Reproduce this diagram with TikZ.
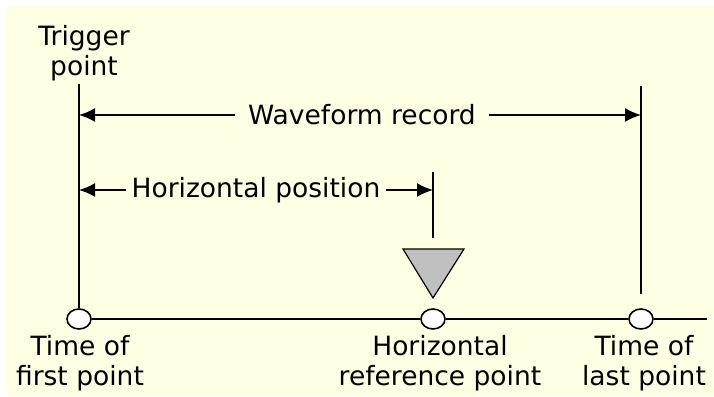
\documentclass[tikz,border=0pt]{standalone}
\usepackage{fontspec}
\setmainfont{DejaVu Sans}
\usetikzlibrary{shapes.geometric,arrows.meta,positioning,calc}
\definecolor{PaperCream}{HTML}{FFFFE4}
\definecolor{MarkerGray}{HTML}{C0C0C0}

\begin{document}
\begin{tikzpicture}[x=1pt,y=-1pt,line width=1.8pt,
  every node/.style={font=\fontsize{26.5}{30}\selectfont},
  tick/.style={draw,fill=white,ellipse,minimum width=24pt,minimum height=20pt,inner sep=0pt,line width=1.6pt},
  dim/.style={-{Latex[length=16pt,width=14pt]}},
  caption/.style={align=center,inner sep=2pt}
]
  \useasboundingbox (0,0) rectangle (714,396);
  \fill[white] (0,0) rectangle (714,396);
  \fill[PaperCream] (6,6) rectangle (714,396);

  \node[tick] (t0) at (79,319) {};
  \node[tick] (tref) at (433,319) {};
  \node[tick] (tlast) at (641,319) {};
  \coordinate (lineend) at (707,319);
  \draw (t0) -- (tref) -- (tlast) -- (lineend);

  \coordinate (trigtop) at (79,84);
  \coordinate (lasttop) at (641,86);
  \coordinate (lastfoot) at (641,294);
  \coordinate (reftop) at (433,172);
  \coordinate (reffoot) at (433,238);
  \draw (trigtop) -- (t0);
  \draw (lasttop) -- (lastfoot);
  \draw (reftop) -- (reffoot);

  \filldraw[fill=MarkerGray,line width=1.2pt] (403,249) -- (464,249) -- (433,298) -- cycle;

  \node[inner xsep=12pt] (wave) at (362,115) {Waveform record};
  \draw[dim] (wave.west) -- (wave.west -| trigtop);
  \draw[dim] (wave.east) -- (wave.east -| lasttop);

  \node[inner xsep=5pt] (hpos) at (256,190) {Horizontal position};
  \draw[dim] (hpos.west) -- (hpos.west -| trigtop);
  \draw[dim] (hpos.east) -- (hpos.east -| reftop);

  \node[caption,above=0pt of trigtop,xshift=5pt] (trig) {Trigger\\point};
  \node[caption,below=3pt of t0,xshift=1pt] (first) {Time of\\first point};
  \node[caption,below=3pt of tref,xshift=7pt] (href) {Horizontal\\reference point};
  \node[caption,below=3pt of tlast,xshift=3pt] (last) {Time of\\last point};
\end{tikzpicture}
\end{document}
